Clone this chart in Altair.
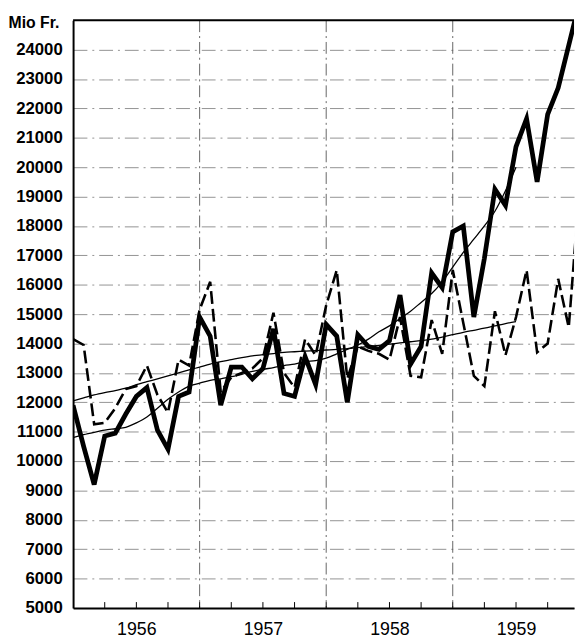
import altair as alt
import pandas as pd

# ---- data (monthly, index 0 = January 1956) ----
y_ticks = list(range(5000, 25000, 1000))
year_labels = [1956, 1957, 1958, 1959]
grid_years = [1957, 1958, 1959]

thick = [11900, 10500, 9200, 10850, 10950, 11600, 12200, 12500, 11050, 10400, 12200, 12350,
         14900, 14250, 11900, 13200, 13200, 12800, 13150, 14500, 12300, 12200, 13550, 12600,
         14650, 14250, 12000, 14300, 13900, 13800, 14100, 15650, 13300, 13900, 16400, 15900,
         17800, 18000, 14900, 16900, 19250, 18700, 20700, 21650, 19500, 21800, 22700, 24150,
         25600]

dashed = [14150, 13950, 11250, 11300, 11800, 12450, 12550, 13250, 12250, 11650, 13450, 13250,
          15150, 16100, 12350, 12850, 13000, 13150, 13500, 15050, 13000, 12500, 14150, 13600,
          15300, 16500, 12800, 13900, 13750, 13650, 13450, 14900, 12900, 12850, 14800, 13650,
          16500, 14700, 12900, 12550, 15100, 13600, 14900, 16500, 13700, 14000, 16200, 14550,
          19200]

trend_a = [12050, 12150, 12250, 12330, 12400, 12480, 12600, 12700, 12800, 12900, 13000, 13100,
           13200, 13300, 13380, 13450, 13520, 13580, 13620, 13660, 13700, 13720, 13740, 13760,
           13780, 13800, 13830, 13860, 13900, 13940, 13980, 14020, 14060, 14100, 14150, 14220,
           14300, 14380, 14450, 14520, 14600, 14680, 14750]

trend_b = [10800, 10900, 10980, 11050, 11100, 11150, 11300, 11500, 11800, 12100, 12350, 12550,
           12650, 12750, 12800, 12870, 12950, 13050, 13120, 13180, 13250, 13300, 13380, 13420,
           13500, 13650, 13800, 13950, 14150, 14400, 14600, 14850, 15100, 15400, 15700, 16100,
           16600, 17100, 17550, 18000, 18500, 19200, 20000]

FONT = "Liberation Sans"
W, H = 508, 596
X_END = 47.5


def frame(vals, name):
    return pd.DataFrame({"m": list(range(len(vals))), "v": vals, "s": name})


xscale = alt.Scale(domain=[0, X_END], nice=False, zero=False)
yscale = alt.Scale(domain=[5000, 25000], nice=False, zero=False)

label_pos = [(y - 1956) * 12 + 6 for y in year_labels]
xaxis = alt.Axis(values=label_pos, labelExpr="toString(1956 + floor(datum.value / 12))",
                 title=None, grid=False, ticks=False, domainColor="black", domainWidth=2,
                 labelFont=FONT, labelFontSize=18, labelColor="black", labelPadding=13,
                 labelFlush=False)
yaxis = alt.Axis(values=y_ticks, title="Mio Fr.", titleAngle=0, titleAlign="left",
                 titleBaseline="middle", titleX=-66, titleY=2, titleFont=FONT,
                 titleFontSize=16, titleFontWeight="bold", titleColor="black",
                 grid=True, gridColor="#777", gridWidth=0.8, gridDash=[14, 5, 2, 5],
                 ticks=False, domainColor="black", domainWidth=2,
                 labelFont=FONT, labelFontSize=17, labelFontWeight="bold",
                 labelColor="black", labelPadding=11, format="d")

base_x = alt.X("m:Q", scale=xscale, axis=xaxis)
base_y = alt.Y("v:Q", scale=yscale, axis=yaxis)

# vertical grid at year starts
vgrid_df = pd.DataFrame({"m": [(y - 1956) * 12 for y in grid_years]})
vgrid = alt.Chart(vgrid_df).mark_rule(color="#555", strokeWidth=0.9,
                                      strokeDash=[12, 4, 2, 4]).encode(
    x=alt.X("m:Q", scale=xscale, axis=xaxis))

# small quarterly ticks inside the bottom axis
q_df = pd.DataFrame({"m": list(range(3, 48, 3))})
qticks = alt.Chart(q_df).mark_rule(color="black", strokeWidth=1).encode(
    x=alt.X("m:Q", scale=xscale, axis=xaxis), y=alt.value(H - 6), y2=alt.value(H))

ta = alt.Chart(frame(trend_a, "a")).mark_line(color="black", strokeWidth=1.3, clip=True,
                                               interpolate="monotone").encode(x=base_x, y=base_y)
tb = alt.Chart(frame(trend_b, "b")).mark_line(color="black", strokeWidth=1.3, clip=True,
                                               interpolate="monotone").encode(x=base_x, y=base_y)
ds = alt.Chart(frame(dashed, "d")).mark_line(color="black", strokeWidth=2.6, clip=True,
                                              strokeDash=[13, 5]).encode(x=base_x, y=base_y)
tk = alt.Chart(frame(thick, "t")).mark_line(color="black", strokeWidth=4.8, clip=True,
                                             strokeJoin="miter").encode(x=base_x, y=base_y)

top = alt.Chart(pd.DataFrame({"v": [25000]})).mark_rule(color="black", strokeWidth=2).encode(
    y=alt.Y("v:Q", scale=yscale, axis=yaxis))

chart = alt.layer(vgrid, qticks, ta, tb, ds, tk, top).properties(
    width=W, height=H,
    autosize=alt.AutoSizeParams(type="none"),
    padding={"left": 66, "top": 8, "right": 2, "bottom": 28},
    background="white",
).configure_view(stroke=None)

chart.save("out.html", embed_options={"renderer": "svg", "actions": False})
